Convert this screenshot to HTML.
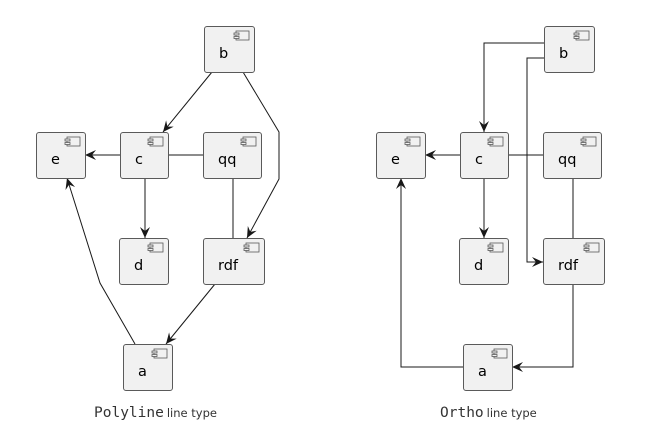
<!DOCTYPE html>
<html><head><meta charset="utf-8"><style>
html,body{margin:0;padding:0;background:#fff;}
svg{display:block;}
.n{fill:#f1f1f1;stroke:#5a5a5a;stroke-width:1;}
.l{fill:none;stroke:#181818;stroke-width:1;}
.t{font-family:"DejaVu Sans","Liberation Sans",sans-serif;font-size:14.5px;fill:#000;}
.ic{fill:#f1f1f1;stroke:#5a5a5a;stroke-width:0.8;}
</style></head><body>
<svg width="664" height="442" viewBox="0 0 664 442" xmlns="http://www.w3.org/2000/svg">
<defs>
<marker id="ar" markerUnits="userSpaceOnUse" markerWidth="14" markerHeight="12" refX="11" refY="5" orient="auto">
<path d="M0,0 L11,5 L0,10 L4,5 Z" fill="#181818"/>
</marker>
<g id="icon">
<rect class="ic" x="2" y="0" width="13" height="9"/>
<rect class="ic" x="0" y="2" width="5" height="2"/>
<rect class="ic" x="0" y="5.5" width="5" height="2"/>
</g>
</defs>

<!-- LEFT: Polyline -->
<polyline class="l" points="212,72 163,132" marker-end="url(#ar)"/>
<polyline class="l" points="243,72 279,132 279,179 247,238" marker-end="url(#ar)"/>
<polyline class="l" points="120,155 85,155" marker-end="url(#ar)"/>
<polyline class="l" points="168,155 203,155"/>
<polyline class="l" points="145,178 145,238" marker-end="url(#ar)"/>
<polyline class="l" points="233,178 233,238"/>
<polyline class="l" points="215,284 166,344" marker-end="url(#ar)"/>
<polyline class="l" points="135,344 100,283 67,178" marker-end="url(#ar)"/>

<rect class="n" x="204.5" y="26.5" width="50" height="46" rx="2.5"/><use href="#icon" x="234" y="31"/><text class="t" x="219" y="58">b</text>
<rect class="n" x="36.5" y="132.5" width="49" height="46" rx="2.5"/><use href="#icon" x="65" y="137"/><text class="t" x="51" y="164">e</text>
<rect class="n" x="120.5" y="132.5" width="48" height="46" rx="2.5"/><use href="#icon" x="148" y="137"/><text class="t" x="135" y="164">c</text>
<rect class="n" x="203.5" y="132.5" width="58" height="46" rx="2.5"/><use href="#icon" x="241" y="137"/><text class="t" x="218" y="164">qq</text>
<rect class="n" x="119.5" y="238.5" width="49" height="46" rx="2.5"/><use href="#icon" x="148" y="243"/><text class="t" x="134" y="270">d</text>
<rect class="n" x="203.5" y="238.5" width="61" height="46" rx="2.5"/><use href="#icon" x="244" y="243"/><text class="t" x="218" y="270">rdf</text>
<rect class="n" x="123.5" y="344.5" width="49" height="46" rx="2.5"/><use href="#icon" x="152" y="349"/><text class="t" x="138" y="376">a</text>

<text x="94" y="417" style="font-family:'DejaVu Sans Mono','Liberation Mono',monospace;font-size:14.5px;fill:#333">Polyline<tspan style="font-family:'DejaVu Sans','Liberation Sans',sans-serif;font-size:11.5px;" dx="3">line type</tspan></text>

<!-- RIGHT: Ortho -->
<polyline class="l" points="544,43 484,43 484,132" marker-end="url(#ar)"/>
<polyline class="l" points="544,58 527,58 527,262 543,262" marker-end="url(#ar)"/>
<polyline class="l" points="460,155 425,155" marker-end="url(#ar)"/>
<polyline class="l" points="508,155 543,155"/>
<polyline class="l" points="484,178 484,238" marker-end="url(#ar)"/>
<polyline class="l" points="573,178 573,238"/>
<polyline class="l" points="573,284 573,367 512,367" marker-end="url(#ar)"/>
<polyline class="l" points="463,367 401,367 401,178" marker-end="url(#ar)"/>

<rect class="n" x="544.5" y="26.5" width="50" height="46" rx="2.5"/><use href="#icon" x="574" y="31"/><text class="t" x="559" y="58">b</text>
<rect class="n" x="376.5" y="132.5" width="49" height="46" rx="2.5"/><use href="#icon" x="405" y="137"/><text class="t" x="391" y="164">e</text>
<rect class="n" x="460.5" y="132.5" width="48" height="46" rx="2.5"/><use href="#icon" x="488" y="137"/><text class="t" x="475" y="164">c</text>
<rect class="n" x="543.5" y="132.5" width="58" height="46" rx="2.5"/><use href="#icon" x="581" y="137"/><text class="t" x="558" y="164">qq</text>
<rect class="n" x="459.5" y="238.5" width="49" height="46" rx="2.5"/><use href="#icon" x="488" y="243"/><text class="t" x="474" y="270">d</text>
<rect class="n" x="543.5" y="238.5" width="61" height="46" rx="2.5"/><use href="#icon" x="584" y="243"/><text class="t" x="558" y="270">rdf</text>
<rect class="n" x="463.5" y="344.5" width="49" height="46" rx="2.5"/><use href="#icon" x="492" y="349"/><text class="t" x="478" y="376">a</text>

<text x="440" y="417" style="font-family:'DejaVu Sans Mono','Liberation Mono',monospace;font-size:14.5px;fill:#333">Ortho<tspan style="font-family:'DejaVu Sans','Liberation Sans',sans-serif;font-size:11.5px;" dx="3">line type</tspan></text>
</svg>
</body></html>
